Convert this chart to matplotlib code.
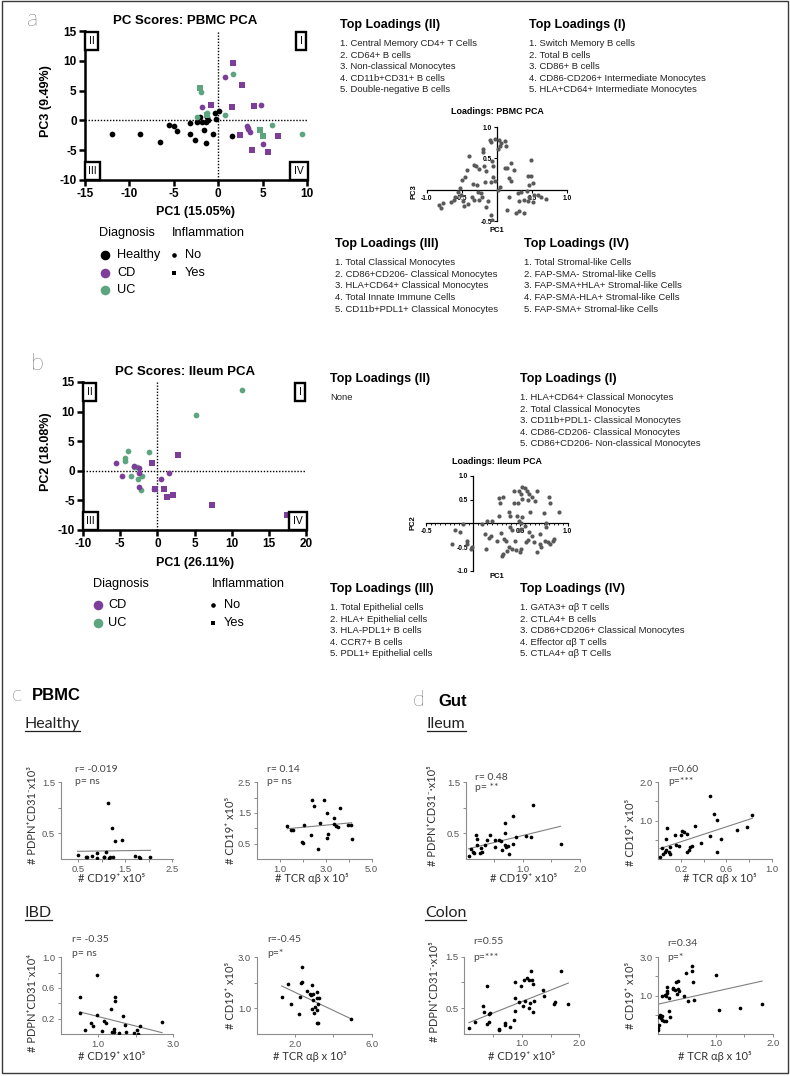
import numpy as np
import matplotlib.pyplot as plt
from matplotlib.patches import Rectangle

W, H = 790, 1076
ARIAL = ['Liberation Sans', 'DejaVu Sans']
LIGHT = ['Lato', 'DejaVu Sans']
PURPLE = '#7d3e99'
GREEN = '#5ca57f'
GREY_TXT = '#444444'

# ---- panel a: PBMC PC scores (PC1 vs PC3)
a_healthy_x = [-12.0, -8.8, -6.5, -5.5, -5.0, -4.6, -3.2, -3.2, -2.6, -2.4, -2.0,
               -1.8, -1.6, -1.4, -1.4, -1.3, -1.2, -0.6, -0.4, -0.3, 0.1, 1.5]
a_healthy_y = [-2.2, -2.2, -3.6, -0.8, -0.9, -1.7, -2.2, -0.4, -3.3, -0.3, 0.5,
               -0.3, -1.6, -3.8, -0.3, 0.5, 0.1, -2.2, 1.2, 0.2, 1.6, -2.6]
a_cd_no_x = [0.8, -1.8, 4.85, 3.2, 3.3, 3.4, 3.6, 5.1]
a_cd_no_y = [7.2, 2.3, 2.6, -0.9, -1.2, -1.5, -2.0, -4.0]
a_cd_yes_x = [1.65, 2.7, -0.8, 1.6, 4.0, 2.5, 3.8, 5.6, 6.7]
a_cd_yes_y = [9.6, 6.0, 2.5, 2.3, 2.4, -2.4, -5.0, -5.3, -2.6]
a_uc_no_x = [1.7, -1.9, -1.3, 0.8, -2.4, 6.1, 9.4]
a_uc_no_y = [7.8, 4.7, 1.3, 0.9, 0.6, -0.7, -2.3]
a_uc_yes_x = [-2.1, 4.7, 5.1, -1.3]
a_uc_yes_y = [5.4, -1.6, -2.6, 0.9]

# ---- panel b: ileum PC scores (PC1 vs PC2)
b_uc_no_x = [11.4, 5.2, -4.0, -4.4, -4.4, -1.1, -3.1, -2.8, -3.5, -2.1, -2.6, -2.2]
b_uc_no_y = [13.7, 9.4, 3.4, 2.1, 1.7, 3.2, 0.6, 0.6, -0.9, -0.8, -1.4, -3.2]
b_cd_no_x = [-5.5, -4.8, -3.1, -2.5, -2.5, -2.5, 0.5, 1.6, -0.5]
b_cd_no_y = [1.4, -0.9, 0.8, 0.5, -0.3, -2.7, -1.4, -0.3, -3.0]
b_cd_yes_x = [-0.75, 2.8, 0.9, -0.35, 1.3, 2.1, 7.3, 17.4]
b_cd_yes_y = [1.35, 2.6, -3.1, -3.0, -4.5, -4.1, -5.7, -7.5]

# ---- loadings
pbmc_load_pc1 = [-0.03, -0.10, -0.09, 0.03, 0.06, 0.11, 0.13, 0.01, 0.04, -0.20, -0.20, -0.40,
                 -0.33, -0.30, -0.25, -0.19, -0.15, -0.07, -0.05, -0.05, -0.03, -0.09, -0.17,
                 -0.42, -0.45, -0.49, -0.34, -0.28, -0.53, -0.55, -0.51, -0.59, -0.61, -0.66,
                 -0.77, -0.82, -0.79, -0.48, -0.41, -0.47, -0.36, -0.33, -0.26, -0.21, -0.27,
                 -0.22, -0.13, -0.15, -0.09, -0.07, 0.01, 0.04, 0.12, 0.14, 0.20, 0.25, 0.18,
                 0.20, 0.17, 0.14, 0.28, 0.32, 0.39, 0.35, 0.30, 0.43, 0.46, 0.45, 0.48, 0.52,
                 0.49, 0.53, 0.58, 0.63, 0.70, 0.46, 0.44, 0.51, 0.38, 0.32]
pbmc_load_pc3 = [0.81, 0.79, 0.76, 0.79, 0.74, 0.77, 0.69, 0.65, 0.69, 0.65, 0.60, 0.54,
                 0.40, 0.37, 0.33, 0.37, 0.29, 0.45, 0.37, 0.21, 0.14, 0.13, 0.12,
                 0.32, 0.20, 0.15, 0.09, 0.07, 0.03, -0.04, -0.08, -0.12, -0.16, -0.19,
                 -0.21, -0.24, -0.29, -0.18, -0.23, -0.26, -0.12, -0.16, -0.16, -0.12, -0.04,
                 -0.05, -0.18, -0.27, -0.41, -0.49, -0.01, 0.05, 0.35, 0.34, 0.42, 0.32, 0.19,
                 0.14, -0.12, -0.33, -0.37, -0.34, -0.38, -0.04, -0.05, -0.02, 0.07, 0.22, 0.22, 0.11,
                 0.48, -0.08, -0.09, -0.12, -0.15, -0.12, -0.18, -0.20, -0.16, -0.18]
ileum_load_pc1 = [0.52, 0.55, 0.48, 0.57, 0.43, 0.51, 0.59, 0.68, 0.62, 0.65, 0.58, 0.52, 0.43,
                  0.47, 0.27, 0.32, 0.28, 0.80, 0.81, 0.91, 0.75, 0.60, 0.38, 0.39, 0.27, 0.20,
                  0.15, 0.09, -0.11, -0.19, -0.14, -0.23, -0.07, -0.07, -0.01, -0.02, 0.13, 0.17,
                  0.29, 0.33, 0.35, 0.38, 0.41, 0.32, 0.30, 0.36, 0.45, 0.49, 0.51, 0.48, 0.51,
                  0.55, 0.59, 0.62, 0.58, 0.56, 0.64, 0.67, 0.71, 0.72, 0.76, 0.79, 0.81, 0.84,
                  0.86, 0.77, 0.77, 0.71, 0.44, 0.39, 0.41, 0.25, 0.19, 0.12, 0.51, 0.48, 0.46, 0.52]
ileum_load_pc2 = [0.77, 0.75, 0.69, 0.69, 0.69, 0.62, 0.62, 0.68, 0.56, 0.48, 0.49, 0.51, 0.44,
                  0.44, 0.54, 0.55, 0.42, 0.55, 0.43, 0.23, 0.21, 0.25, 0.25, 0.16, 0.16, 0.06,
                  0.04, -0.01, -0.01, -0.14, -0.19, -0.44, -0.37, -0.44, -0.49, -0.54, -0.54, -0.30,
                  -0.21, -0.33, -0.37, -0.49, -0.54, -0.65, -0.68, -0.59, -0.56, -0.61, -0.54, -0.15, -0.12,
                  -0.05, -0.19, -0.26, -0.35, -0.40, -0.40, -0.61, -0.44, -0.49, -0.37, -0.39, -0.44, -0.37,
                  -0.34, -0.08, 0.0, -0.23, -0.37, -0.07, -0.15, -0.37, -0.26, -0.23, 0.0, 0.06, 0.16, 0.13]

# ---- loadings text
a_II = ["1. Central Memory CD4+ T Cells", "2. CD64+ B cells", "3. Non-classical Monocytes",
        "4. CD11b+CD31+ B cells", "5. Double-negative B cells"]
a_I = ["1. Switch Memory B cells", "2. Total B cells", "3. CD86+ B cells",
       "4. CD86-CD206+ Intermediate Monocytes", "5. HLA+CD64+ Intermediate Monocytes"]
a_III = ["1. Total Classical Monocytes", "2. CD86+CD206- Classical Monocytes",
         "3. HLA+CD64+ Classical Monocytes", "4. Total Innate Immune Cells",
         "5. CD11b+PDL1+ Classical Monocytes"]
a_IV = ["1. Total Stromal-like Cells", "2. FAP-SMA- Stromal-like Cells",
        "3. FAP-SMA+HLA+ Stromal-like Cells", "4. FAP-SMA-HLA+ Stromal-like Cells",
        "5. FAP-SMA+ Stromal-like Cells"]
b_II = ["None"]
b_I = ["1. HLA+CD64+ Classical Monocytes", "2. Total Classical Monocytes",
       "3. CD11b+PDL1- Classical Monocytes", "4. CD86-CD206- Classical Monocytes",
       "5. CD86+CD206- Non-classical Monocytes"]
b_III = ["1. Total Epithelial cells", "2. HLA+ Epithelial cells", "3. HLA-PDL1+ B cells",
         "4. CCR7+ B cells", "5. PDL1+ Epithelial cells"]
b_IV = ["1. GATA3+ \u03b1\u03b2 T cells", "2. CTLA4+ B cells", "3. CD86+CD206+ Classical Monocytes",
        "4. Effector \u03b1\u03b2 T cells", "5. CTLA4+ \u03b1\u03b2 T Cells"]

# ---- c/d correlations
h_l_x = [0.48, 0.66, 0.69, 0.79, 0.89, 0.89, 1.04, 1.05, 1.08, 1.14, 1.21, 1.29, 1.44, 1.18,
         1.24, 1.15, 1.71, 1.79, 1.82, 2.04]
h_l_y = [0.07, 0.04, 0.03, 0.06, 0.11, 0.02, 0.03, 0.03, 0.13, 1.09, 0.61, 0.36, 0.38, 0.03,
         0.03, 0.02, 0.06, 0.03, 0.02, 0.03]
h_r_x = [1.33, 1.48, 1.59, 2.06, 1.99, 2.03, 2.36, 2.42, 2.49, 2.68, 2.75, 2.93, 3.07, 3.12,
         3.04, 3.36, 3.38, 3.45, 3.55, 3.62, 3.99, 4.09, 4.13]
h_r_y = [1.06, 0.95, 0.95, 1.11, 0.55, 0.51, 0.77, 1.93, 1.72, 0.33, 1.17, 1.93, 1.50, 0.81,
         0.70, 1.33, 1.14, 1.08, 1.03, 1.66, 1.11, 1.11, 0.64]
i_l_x = [0.51, 0.51, 0.66, 0.80, 0.86, 0.97, 0.97, 1.09, 1.15, 1.22, 1.34, 1.38, 1.42, 1.42,
         1.45, 1.45, 1.54, 1.67, 1.72, 1.74, 1.96, 2.03, 2.05, 2.12, 2.70]
i_l_y = [0.48, 0.27, 0.05, 0.14, 0.11, 0.77, 0.25, 0.04, 0.17, 0.14, 0.33, 0.03, 0.07, 0.02,
         0.48, 0.43, 0.01, 0.23, 0.12, 0.02, 0.01, 0.05, 0.0, 0.10, 0.16]
i_r_x = [1.30, 1.65, 1.77, 2.21, 2.26, 2.35, 2.30, 2.38, 2.61, 2.78, 2.82, 2.87, 2.90, 2.92,
         2.96, 3.01, 3.04, 3.13, 3.17, 3.22, 3.17, 3.13, 3.25, 3.22, 4.90]
i_r_y = [1.43, 1.97, 1.16, 0.78, 1.44, 2.62, 2.01, 2.04, 1.69, 1.58, 1.52, 0.96, 1.91, 1.55,
         1.32, 0.81, 1.05, 0.44, 1.65, 0.44, 0.94, 1.42, 1.42, 1.19, 0.58]
il_l_x = [0.05, 0.09, 0.12, 0.15, 0.18, 0.19, 0.19, 0.25, 0.27, 0.29, 0.34, 0.38, 0.42, 0.52,
          0.52, 0.59, 0.61, 0.64, 0.69, 0.68, 0.69, 0.71, 0.74, 0.76, 0.82, 0.83, 0.88, 1.05,
          1.15, 1.18, 1.66]
il_l_y = [0.05, 0.19, 0.14, 0.11, 0.46, 0.39, 0.27, 0.11, 0.22, 0.14, 0.28, 0.37, 0.46, 0.24,
          0.37, 0.37, 0.35, 0.17, 0.28, 0.51, 0.70, 0.24, 0.26, 0.10, 0.85, 0.30, 0.43, 0.45,
          0.43, 1.06, 0.30]
il_r_x = [0.015, 0.03, 0.04, 0.06, 0.07, 0.07, 0.09, 0.10, 0.08, 0.10, 0.15, 0.16, 0.18, 0.20,
          0.21, 0.23, 0.25, 0.25, 0.27, 0.28, 0.30, 0.32, 0.38, 0.46, 0.46, 0.49, 0.52, 0.52,
          0.55, 0.69, 0.78, 0.83]
il_r_y = [0.06, 0.28, 0.12, 0.19, 0.51, 0.23, 0.17, 0.14, 0.82, 0.30, 0.63, 0.37, 0.35, 0.63,
          0.73, 0.70, 0.64, 0.19, 0.23, 0.30, 0.35, 0.87, 0.43, 1.63, 0.60, 1.17, 1.01, 0.17,
          0.52, 0.76, 0.83, 1.15]
co_l_x = [0.08, 0.19, 0.33, 0.35, 0.40, 0.40, 0.43, 0.43, 0.44, 0.61, 0.61, 0.70, 0.71, 0.79,
          0.87, 0.88, 0.88, 0.89, 0.95, 0.98, 1.02, 1.04, 1.05, 1.09, 1.12, 1.12, 1.15, 1.16,
          1.17, 1.19, 1.20, 1.21, 1.37, 1.39, 1.56, 1.58, 1.68, 1.81]
co_l_y = [0.12, 0.22, 0.53, 0.43, 0.93, 0.19, 0.39, 0.22, 0.41, 0.10, 0.07, 0.20, 0.16, 0.14,
          0.27, 0.44, 0.70, 1.01, 0.61, 0.92, 0.53, 1.04, 0.63, 1.09, 1.05, 0.50, 0.59, 1.23,
          1.04, 0.42, 0.97, 0.63, 0.86, 0.73, 0.58, 0.61, 1.22, 0.58]
co_r_x = [0.0, 0.0, 0.01, 0.01, 0.03, 0.04, 0.06, 0.07, 0.10, 0.13, 0.07, 0.11, 0.13, 0.16,
          0.16, 0.18, 0.15, 0.18, 0.20, 0.25, 0.26, 0.29, 0.30, 0.32, 0.34, 0.35, 0.36, 0.45,
          0.49, 0.51, 0.58, 0.58, 0.60, 0.63, 1.01, 1.05, 1.43, 1.81]
co_r_y = [-0.83, -0.70, -0.53, -0.10, -0.01, -0.18, -0.06, -0.27, -0.36, -0.36, 0.95, 1.03,
          0.95, 1.24, 1.47, 0.86, 1.12, 0.17, -0.15, 1.38, 1.33, 1.30, 1.73, 1.09, 1.78, 1.33,
          1.21, 0.95, 2.17, 0.72, 2.55, 2.30, 1.73, 0.74, 2.08, 0.22, 0.37, 0.55]

fig = plt.figure(figsize=(W / 100, H / 100), dpi=100)


def box(x0, y0, x1, y1):
    return [x0 / W, 1 - y1 / H, (x1 - x0) / W, (y1 - y0) / H]


ov = fig.add_axes([0, 0, 1, 1], zorder=5)
ov.set_xlim(0, W)
ov.set_ylim(H, 0)
ov.axis('off')


def txt(x, y, s, size=7, weight='normal', fam=ARIAL, ha='left', va='center', **kw):
    return ov.text(x, y, s, fontsize=size, fontweight=weight, family=fam, ha=ha, va=va, **kw)


ov.add_patch(Rectangle((2, 1), 786, 1072, fill=False, ec='#3a3a3a', lw=1))


def score_axes(rect, xlim, xticks, ylim, yticks):
    ax = fig.add_axes(box(*rect))
    ax.set_facecolor('none')
    ax.set_xlim(*xlim)
    ax.set_ylim(*ylim)
    ax.set_xticks(xticks, [str(t) for t in xticks], fontweight='bold', fontsize=8.5, family=ARIAL)
    ax.set_yticks(yticks, [str(t) for t in yticks], fontweight='bold', fontsize=8.5, family=ARIAL)
    ax.spines[['top', 'right']].set_visible(False)
    ax.spines[['left', 'bottom']].set_linewidth(1.8)
    ax.tick_params(width=1.8, length=4, pad=2)
    ax.axhline(0, color='black', ls=(0, (1, 1.2)), lw=1)
    ax.axvline(0, color='black', ls=(0, (1, 1.2)), lw=1)
    bb = dict(boxstyle='square,pad=0.35', fc='white', ec='black', lw=1.7)
    w, h = rect[2] - rect[0], rect[3] - rect[1]
    for lab, fx, fy in [('II', 6.5, 10), ('I', w - 6, 10), ('III', 7.5, h - 9), ('IV', w - 8, h - 9)]:
        ax.text(fx / w, 1 - fy / h, lab, transform=ax.transAxes, ha='center', va='center',
                fontsize=7.5, family=ARIAL, bbox=bb, zorder=4)
    return ax


def pts(ax, x, y, color, marker):
    ax.scatter(x, y, s=17 if marker == 'o' else 15, c=color, marker=marker, lw=0, zorder=3)


# panel a
axa = score_axes((85, 31, 307, 180), (-15, 10), [-15, -10, -5, 0, 5, 10], (-10, 15), [-10, -5, 0, 5, 10, 15])
pts(axa, a_healthy_x, a_healthy_y, 'black', 'o')
pts(axa, a_cd_no_x, a_cd_no_y, PURPLE, 'o')
pts(axa, a_cd_yes_x, a_cd_yes_y, PURPLE, 's')
pts(axa, a_uc_no_x, a_uc_no_y, GREEN, 'o')
pts(axa, a_uc_yes_x, a_uc_yes_y, GREEN, 's')
txt(27, 19, 'a', size=17, fam=LIGHT, weight='light')
txt(185, 21, 'PC Scores: PBMC PCA', size=9.5, weight='bold', ha='center')
txt(196, 212, 'PC1 (15.05%)', size=9, weight='bold', ha='center')
txt(46, 101, 'PC3 (9.49%)', size=9, weight='bold', ha='center', rotation=90)

txt(99, 233, 'Diagnosis', size=9.2)
txt(172, 233, 'Inflammation', size=9.2)
for lab, col, yy in [('Healthy', 'black', 255), ('CD', PURPLE, 273), ('UC', GREEN, 290)]:
    ov.scatter([105], [yy], s=48, c=col, lw=0)
    txt(117, yy, lab, size=9.2)
ov.scatter([174], [255], s=11, c='black', lw=0)
txt(185, 255, 'No', size=9.2)
ov.scatter([174], [273], s=10, c='black', marker='s', lw=0)
txt(185, 273, 'Yes', size=9.2)


def loading_block(x, y, head, lines):
    txt(x, y, head, size=9, weight='bold')
    for i, s in enumerate(lines):
        txt(x, y + 18.6 + 11.6 * i, s, size=6.8, color='#222222')


loading_block(340, 25, 'Top Loadings (II)', a_II)
loading_block(529, 25, 'Top Loadings (I)', a_I)
loading_block(335, 244, 'Top Loadings (III)', a_III)
loading_block(524, 244, 'Top Loadings (IV)', a_IV)


def loading_axes(rect, x, y, xlim, ylim, xt, yt):
    ax = fig.add_axes(box(*rect))
    ax.set_facecolor('none')
    ax.scatter(x, y, s=9, c='#595959', lw=0, zorder=3)
    ax.set_xlim(*xlim)
    ax.set_ylim(*ylim)
    ax.spines['left'].set_position(('data', 0))
    ax.spines['bottom'].set_position(('data', 0))
    ax.spines[['top', 'right']].set_visible(False)
    ax.spines[['left', 'bottom']].set_linewidth(0.9)
    ax.set_xticks(xt, ['%.1f' % t for t in xt], fontsize=4.8, fontweight='bold', family=ARIAL)
    ax.set_yticks(yt, ['%.1f' % t for t in yt], fontsize=4.8, fontweight='bold', family=ARIAL)
    ax.tick_params(width=0.8, length=2.5, pad=1)
    return ax


loading_axes((426.7, 127, 567, 221), pbmc_load_pc1, pbmc_load_pc3, (-1, 1), (-0.5, 1.0),
             [-1.0, -0.5, 0.5, 1.0], [-0.5, 0.5, 1.0])
txt(497, 112, 'Loadings: PBMC PCA', size=6.4, weight='bold', ha='center')
txt(497, 231, 'PC1', size=5.5, weight='bold', ha='center')
txt(414, 192, 'PC3', size=5.5, weight='bold', ha='center', rotation=90)

# panel b
axb = score_axes((83, 382, 306, 530), (-10, 20), [-10, -5, 0, 5, 10, 15, 20], (-10, 15), [-10, -5, 0, 5, 10, 15])
pts(axb, b_uc_no_x, b_uc_no_y, GREEN, 'o')
pts(axb, b_cd_no_x, b_cd_no_y, PURPLE, 'o')
pts(axb, b_cd_yes_x, b_cd_yes_y, PURPLE, 's')
txt(31, 364, 'b', size=17, fam=LIGHT, weight='light')
txt(185, 372, 'PC Scores: Ileum PCA', size=9.5, weight='bold', ha='center')
txt(195, 563, 'PC1 (26.11%)', size=9, weight='bold', ha='center')
txt(46, 452, 'PC2 (18.08%)', size=9, weight='bold', ha='center', rotation=90)

txt(93, 584, 'Diagnosis', size=9.2)
txt(212, 584, 'Inflammation', size=9.2)
for lab, col, yy in [('CD', PURPLE, 605), ('UC', GREEN, 623)]:
    ov.scatter([98], [yy], s=48, c=col, lw=0)
    txt(108, yy, lab, size=9.2)
ov.scatter([213], [605], s=11, c='black', lw=0)
txt(224, 605, 'No', size=9.2)
ov.scatter([213], [623], s=10, c='black', marker='s', lw=0)
txt(224, 623, 'Yes', size=9.2)

loading_block(330, 379, 'Top Loadings (II)', b_II)
loading_block(520, 379, 'Top Loadings (I)', b_I)
loading_block(330, 589, 'Top Loadings (III)', b_III)
loading_block(520, 589, 'Top Loadings (IV)', b_IV)

axli = loading_axes((426, 476, 567.7, 570.7), ileum_load_pc1, ileum_load_pc2, (-0.5, 1.0), (-1.0, 1.0),
                    [-0.5, 0.5, 1.0], [-1.0, -0.5, 0.5, 1.0])
axli.set_xticks(np.arange(-0.5, 1.001, 0.05), minor=True)
axli.tick_params(which='minor', length=1.6, width=0.6)
txt(497, 461, 'Loadings: Ileum PCA', size=6.4, weight='bold', ha='center')
txt(497, 577, 'PC1', size=5.5, weight='bold', ha='center')
txt(413, 523, 'PC2', size=5.5, weight='bold', ha='center', rotation=90)

# panels c / d
txt(12, 695, 'c', size=16, fam=LIGHT, weight='light')
txt(32, 695, 'PBMC', size=12, weight='bold')
txt(413, 700, 'd', size=16, fam=LIGHT, weight='light')
txt(438, 701, 'Gut', size=12, weight='bold')

underlined = []
for x, y, s in [(25, 728, 'Healthy'), (427, 728, 'Ileum'), (25, 917, 'IBD'), (425, 917, 'Colon')]:
    underlined.append((txt(x, y, s, size=11.5, fam=LIGHT, va='baseline', color='#222222'), y))


def corr_axes(rect, x, y, xlim, ylim, xt, xtl, yt, ytl, r_s, p_s, rpos, ppos, xlab, xlpos, ylab, ylpos):
    ax = fig.add_axes(box(*rect))
    ax.set_facecolor('none')
    ax.scatter(x, y, s=7, c='black', lw=0, zorder=3)
    k, b = np.polyfit(x, y, 1)
    xx = np.array([min(x), max(x)])
    ax.plot(xx, k * xx + b, color='#808080', lw=0.8)
    ax.set_xlim(*xlim)
    ax.set_ylim(*ylim)
    ax.spines[['top', 'right']].set_visible(False)
    ax.spines[['left', 'bottom']].set_color('#8c8c8c')
    ax.spines[['left', 'bottom']].set_linewidth(0.8)
    ax.set_xticks(xt, xtl, fontsize=6.8, family=ARIAL, color='#555555')
    ax.set_yticks(yt, ytl, fontsize=6.8, family=ARIAL, color='#555555')
    ax.tick_params(length=2.5, width=0.7, color='#8c8c8c', pad=1.5)
    txt(rpos[0], rpos[1], r_s, size=7.5, fam=LIGHT, color=GREY_TXT)
    txt(ppos[0], ppos[1], p_s, size=7.5, fam=LIGHT, color=GREY_TXT)
    txt(xlpos[0], xlpos[1], xlab, size=8, fam=LIGHT, ha='center', color='#333333')
    txt(ylpos[0], ylpos[1], ylab, size=8, fam=LIGHT, ha='center', rotation=90, color='#333333')


CD19 = '# CD19\u207a x10\u2075'
TCR = '# TCR \u03b1\u03b2 x 10\u2075'
CD19Y = '# CD19\u207a x10\u2075'

corr_axes((60.7, 782.3, 173.3, 859), h_l_x, h_l_y, (0.12, 2.53), (0, 1.5),
          [0.5, 1.0, 1.5, 2.0, 2.5], ['0.5', '', '1.5', '', '2.5'], [0.5, 1.0, 1.5], ['0.5', '', '1.5'],
          'r= -0.019', 'p= ns', (75, 770), (75, 782), CD19, (112, 879),
          '# PDPN\u207aCD31\u207bx10\u00b3', (32, 815))
corr_axes((256.7, 782.3, 371.7, 859), h_r_x, h_r_y, (0, 5), (0, 2.5),
          [1, 2, 3, 4, 5], ['1.0', '', '3.0', '', '5.0'], [0.5, 1.0, 1.5, 2.0, 2.5], ['0.5', '', '1.5', '', '2.5'],
          'r= 0.14', 'p= ns', (267, 770), (267, 782), TCR, (312, 879), CD19Y, (230, 830))
corr_axes((60.7, 957.3, 173.3, 1034), i_l_x, i_l_y, (0, 3), (0, 1.0),
          [1, 2, 3], ['1.0', '', '3.0'], [0.2, 0.4, 0.6, 0.8, 1.0], ['0.2', '', '0.6', '', '1.0'],
          'r= -0.35', 'p= ns', (72, 940), (72, 954), CD19, (112, 1057),
          '# PDPN\u207aCD31\u207bx10\u2074', (32, 1003))
corr_axes((256.7, 957.3, 371.7, 1034), i_r_x, i_r_y, (0, 6), (0, 3.0),
          [2, 4, 6], ['2.0', '', '6.0'], [1, 2, 3], ['1.0', '', '3.0'],
          'r=-0.45', 'p=*', (267, 940), (267, 954), TCR, (310, 1057), CD19Y, (230, 995))
corr_axes((465.7, 782.3, 580, 859), il_l_x, il_l_y, (0, 2), (0, 1.5),
          [0.5, 1.0, 1.5, 2.0], ['', '1.0', '', '2.0'], [0.5, 1.0, 1.5], ['0.5', '', '1.5'],
          'r= 0.48', 'p= **', (475, 777), (475, 788), CD19, (524, 879),
          '# PDPN\u207aCD31\u207b\u00b7x10\u2075', (433, 816))
corr_axes((658.3, 782.3, 771.7, 859), il_r_x, il_r_y, (0, 1.0), (0, 2.0),
          [0.2, 0.4, 0.6, 0.8, 1.0], ['0.2', '', '0.6', '', '1.0'], [0.5, 1.0, 1.5, 2.0], ['', '1.0', '', '2.0'],
          'r=0.60', 'p=***', (668, 770), (668, 782), TCR, (720, 879), CD19Y, (630, 832))
corr_axes((464.3, 956.7, 579.3, 1033.7), co_l_x, co_l_y, (0, 2), (0, 1.5),
          [0.5, 1.0, 1.5, 2.0], ['', '1.0', '', '2.0'], [0.5, 1.0, 1.5], ['0.5', '', '1.5'],
          'r=0.55', 'p=***', (473, 942), (473, 957), CD19, (522, 1057),
          '# PDPN\u207aCD31\u207b\u00b7x10\u2075', (434, 992))
corr_axes((658.3, 957.3, 773, 1033.7), co_r_x, co_r_y, (0, 2), (-1, 3.0),
          [0.5, 1.0, 1.5, 2.0], ['', '1.0', '', '2.0'], [0, 1, 2, 3], ['', '1.0', '', '3.0'],
          'r=0.34', 'p=*', (667, 943), (667, 957), TCR, (715, 1057), CD19Y, (630, 995))

# underline section headings
fig.canvas.draw()
rend = fig.canvas.get_renderer()
for t, y in underlined:
    bb = t.get_window_extent(rend)
    ov.plot([bb.x0, bb.x1], [y + 2.5, y + 2.5], color='#222222', lw=0.9)

fig.savefig('out.png', dpi=100)
